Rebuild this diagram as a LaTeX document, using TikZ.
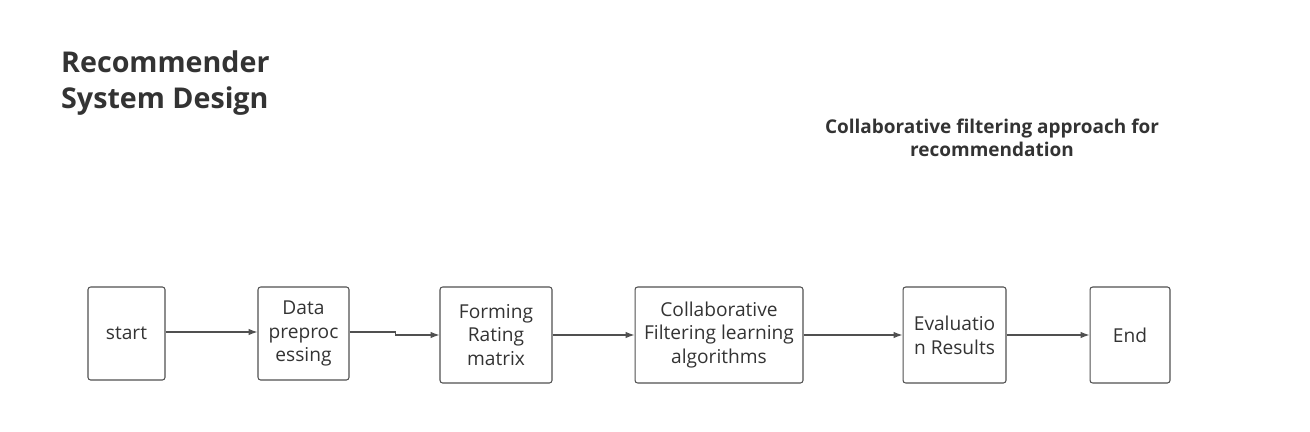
\documentclass[tikz,border=0pt]{standalone}
\usepackage{fontspec}
\setmainfont{Open Sans}
\usetikzlibrary{arrows.meta}
\definecolor{inkgray}{HTML}{333333}
\definecolor{linegray}{HTML}{505050}

\begin{document}
\begin{tikzpicture}[x=0.02cm, y=-0.02cm,
    stagebox/.style={draw=linegray, rounded corners=1.5pt, line width=0.6pt,
                     text=inkgray, align=center, inner sep=0pt,
                     font=\fontsize{10.9}{13.6}\selectfont},
    flow/.style={draw=linegray, line width=0.6pt,
                 -{Latex[length=5pt,width=3.6pt]}}]

\useasboundingbox (0, 0) rectangle (1310, 432);

% headings
\node[anchor=north west, align=left, text=inkgray,
      font=\fontsize{16.3}{20.4}\selectfont\bfseries] (title) at (55, 45)
      {Recommender\\System Design};
\node[align=center, text=inkgray,
      font=\fontsize{10.8}{13.2}\selectfont\bfseries] (subtitle) at (992, 138)
      {Collaborative filtering approach for\\recommendation};

% stages
\node[stagebox, minimum width=1.54cm, minimum height=1.86cm] (start) at (126.5, 333.5) {start};
\node[stagebox, minimum width=1.82cm, minimum height=1.86cm] (prep) at (303.5, 333.5) {Data\\preproc\\essing};
\node[stagebox, minimum width=2.24cm, minimum height=1.92cm] (matrix) at (496, 335) {Forming\\Rating\\matrix};
\node[stagebox, minimum width=3.36cm, minimum height=1.92cm] (cf) at (719, 335) {Collaborative\\Filtering learning\\algorithms};
\node[stagebox, minimum width=2.06cm, minimum height=1.92cm] (eval) at (954.5, 335) {Evaluatio\\n Results};
\node[stagebox, minimum width=1.6cm, minimum height=1.92cm] (end) at (1130, 335) {End};

% connectors
\draw[flow] (start.east |- 0, 332) -- (prep.west |- 0, 332);
\draw[flow] (prep.east |- 0, 332) -- ++(46, 0) |- (matrix.west);
\draw[flow] (matrix) -- (cf);
\draw[flow] (cf) -- (eval);
\draw[flow] (eval) -- (end);

\end{tikzpicture}
\end{document}
